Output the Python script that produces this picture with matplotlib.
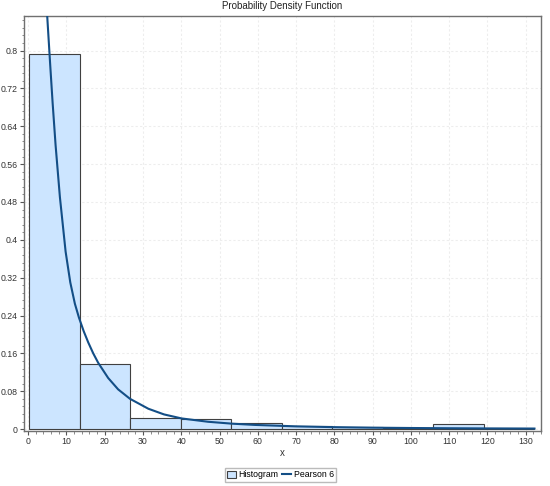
import matplotlib.pyplot as plt
from matplotlib.ticker import MultipleLocator
from matplotlib.patches import Patch
from matplotlib.lines import Line2D

plt.rcParams['font.family'] = ['Liberation Sans', 'DejaVu Sans']

# histogram bins (edges) and heights
bin_edges = [0.3, 13.5, 26.7, 39.9, 53.1, 66.3, 79.5, 92.7, 105.9, 119.1, 132.3]
bin_heights = [0.793, 0.137, 0.0232, 0.021, 0.0127, 0.0062, 0.004, 0.0013, 0.0106, 0.002]

# fitted Pearson 6 curve
curve_x = [4.2, 4.97, 5.75, 6.38, 7.16, 8.29, 9.78, 11.0, 12.2, 13.25, 14.5, 15.7,
           17.0, 18.3, 20.9, 23.5, 26.6, 31.4, 35.5, 40.1, 47.0, 53.2, 59.3,
           70.0, 80.0, 90.0, 100.0, 110.0, 120.0, 132.3]
curve_y = [0.98, 0.873, 0.77, 0.69, 0.60, 0.49, 0.375, 0.31, 0.265, 0.236, 0.207, 0.183,
           0.160, 0.140, 0.108, 0.084, 0.064, 0.043, 0.031, 0.0225, 0.0155, 0.0115, 0.0088,
           0.0058, 0.0041, 0.003, 0.0023, 0.0018, 0.0014, 0.0011]

fig = plt.figure(figsize=(5.5, 4.86), dpi=100)
ax = fig.add_axes([0.0436, 0.1132, 0.94, 0.8538])

widths = [bin_edges[i + 1] - bin_edges[i] for i in range(len(bin_heights))]
ax.bar(bin_edges[:-1], bin_heights, width=widths, align='edge',
       facecolor='#cce5ff', edgecolor='#404040', linewidth=0.8, zorder=2)
ax.plot(curve_x, curve_y, color='#134e86', linewidth=1.5, zorder=3)

ax.set_xlim(-1.1, 134)
ax.set_ylim(-0.004, 0.873)
ax.xaxis.set_major_locator(MultipleLocator(10))
ax.xaxis.set_minor_locator(MultipleLocator(2))
ax.yaxis.set_major_locator(MultipleLocator(0.08))
ax.yaxis.set_minor_locator(MultipleLocator(0.016))
ax.yaxis.set_major_formatter(plt.FuncFormatter(
    lambda v, p: ('%.2f' % v).rstrip('0').rstrip('.') if v > 0.001 else '0'))

ax.grid(True, which='major', color='#ededed', linestyle=(0, (2, 2)), linewidth=0.8, zorder=0)
ax.set_axisbelow(True)
ax.tick_params(axis='both', which='major', labelsize=6.3, length=3, color='#555555',
               labelcolor='#333333', pad=1.5)
ax.tick_params(axis='both', which='minor', length=1.8, color='#777777')
for s in ax.spines.values():
    s.set_color('#707070')
    s.set_linewidth(1.0)

ax.set_title('Probability Density Function', fontsize=7, color='#222222', pad=5)
ax.set_xlabel('x', fontsize=7, color='#333333', labelpad=1)

handles = [Patch(facecolor='#cce5ff', edgecolor='#404040', linewidth=0.8),
           Line2D([0], [0], color='#134e86', linewidth=1.5)]
fig.legend(handles, ['Histogram', 'Pearson 6'], loc='center', bbox_to_anchor=(0.51, 0.023),
           ncol=2, fontsize=6.3, frameon=True, fancybox=False, edgecolor='#aaaaaa',
           handlelength=1.0, handleheight=0.8, handletextpad=0.3, columnspacing=0.4,
           borderpad=0.3, borderaxespad=0)

fig.savefig('out.png', dpi=100)
